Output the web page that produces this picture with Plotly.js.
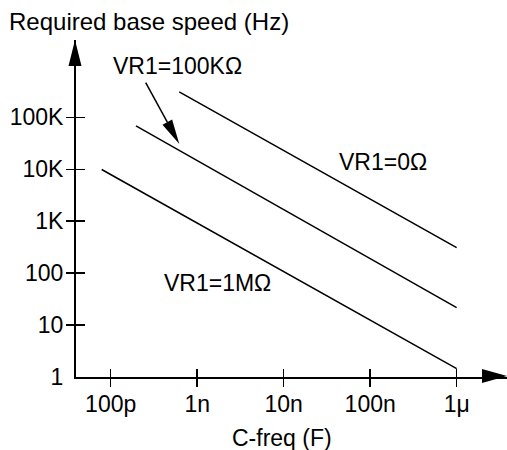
<!DOCTYPE html>
<html>
<head>
<meta charset="utf-8">
<script src="https://cdn.plot.ly/plotly-3.0.1.min.js"></script>
<style>html,body{margin:0;padding:0;background:#fff;}</style>
</head>
<body>
<div id="chart" style="width:507px;height:450px;"></div>
<script>
// ---- data ----
var xTickVals = [1e-10, 1e-9, 1e-8, 1e-7, 1e-6];
var xTickText = ['100p', '1n', '10n', '100n', '1\u03bc'];
var yLabelVals = [1, 10, 100, 1000, 10000, 100000];
var yLabelText = ['1', '10', '100', '1K', '10K', '100K'];
var yMarkVals = [10, 100, 1000, 10000, 100000];

var capVR0 = [6.2e-10, 1.0e-6];
var speedVR0 = [310000, 311];
var capVR100K = [1.96e-10, 1.0e-6];
var speedVR100K = [68600, 21.7];
var capVR1M = [7.87e-11, 1.0e-6];
var speedVR1M = [9900, 1.45];

var labelVR0 = 'VR1=0\u03a9';
var labelVR100K = 'VR1=100K\u03a9';
var labelVR1M = 'VR1=1M\u03a9';

var FONT = 'Liberation Sans, Arial, Helvetica, sans-serif';
var FS = 23;
var lineStyle = {color: '#000', width: 1.5};

var traces = [
  {x: capVR1M, y: speedVR1M, mode: 'lines', line: lineStyle, xaxis: 'x', yaxis: 'y', hoverinfo: 'skip'},
  {x: capVR100K, y: speedVR100K, mode: 'lines', line: lineStyle, xaxis: 'x2', yaxis: 'y2', hoverinfo: 'skip'},
  {x: capVR0, y: speedVR0, mode: 'lines', line: lineStyle, xaxis: 'x', yaxis: 'y3', hoverinfo: 'skip'}
];

var xRange = [-10.401, -5.418];
var yRange = [0, 6.49];

var baseAx = {
  type: 'log', showgrid: false, zeroline: false, fixedrange: true,
  tickfont: {family: FONT, size: FS, color: '#000'}
};
function ax(extra) { return Object.assign({}, baseAx, extra); }

var layout = {
  width: 507, height: 450,
  margin: {l: 76, r: 0, t: 40, b: 73, pad: 0},
  paper_bgcolor: '#fff', plot_bgcolor: '#fff',
  showlegend: false,
  font: {family: FONT, size: FS, color: '#000'},
  title: {
    text: 'Required base speed (Hz)',
    font: {family: FONT, size: 24, color: '#000'},
    xref: 'container', x: 9 / 507, xanchor: 'left',
    yref: 'container', y: 1 - 22 / 450, yanchor: 'middle'
  },
  xaxis: ax({range: xRange, tickmode: 'array', tickvals: xTickVals, ticktext: xTickText,
    ticks: 'outside', ticklen: 8, tickwidth: 1.5, tickcolor: '#000',
    showline: true, linecolor: '#000', linewidth: 2, anchor: 'y', ticklabelstandoff: -3}),
  xaxis2: ax({range: xRange, overlaying: 'x', anchor: 'y2', side: 'bottom', tickmode: 'array', tickvals: xTickVals,
    ticks: 'inside', ticklen: 8, tickwidth: 1.5, tickcolor: '#000', showticklabels: false, showline: false}),
  yaxis: ax({range: yRange, tickmode: 'array', tickvals: yLabelVals, ticktext: yLabelText,
    ticks: 'outside', ticklen: 9, tickwidth: 1.5, tickcolor: 'rgba(0,0,0,0)',
    showline: true, linecolor: '#000', linewidth: 2, anchor: 'x', ticklabelstandoff: -3}),
  yaxis2: ax({range: yRange, overlaying: 'y', anchor: 'x2', side: 'left', tickmode: 'array', tickvals: yMarkVals,
    ticks: 'outside', ticklen: 9, tickwidth: 1.5, tickcolor: '#000', showticklabels: false, showline: false}),
  yaxis3: ax({range: yRange, overlaying: 'y', anchor: 'x', side: 'left', tickmode: 'array', tickvals: yMarkVals,
    ticks: 'inside', ticklen: 9, tickwidth: 1.5, tickcolor: '#000', showticklabels: false, showline: false}),
  annotations: [
    {text: labelVR100K, xref: 'x', yref: 'y', x: -9.222, y: 5.986, showarrow: false,
      xanchor: 'center', yanchor: 'middle', font: {family: FONT, size: FS, color: '#000'}},
    {text: labelVR0, xref: 'x', yref: 'y', x: -6.846, y: 4.137, showarrow: false,
      xanchor: 'center', yanchor: 'middle', font: {family: FONT, size: FS, color: '#000'}},
    {text: labelVR1M, xref: 'x', yref: 'y', x: -8.765, y: 1.805, showarrow: false,
      xanchor: 'center', yanchor: 'middle', font: {family: FONT, size: FS, color: '#000'}},
    {text: 'C-freq (F)', xref: 'paper', yref: 'paper', x: (281.5 - 76) / 431, y: (377 - 438) / 337,
      showarrow: false, xanchor: 'center', yanchor: 'middle', font: {family: FONT, size: FS, color: '#000'}}
  ],
  shapes: [
    // y-axis arrowhead
    {type: 'path', xref: 'paper', yref: 'paper', xsizemode: 'pixel', ysizemode: 'pixel',
      xanchor: 0, yanchor: 1, path: 'M-1,0L-7.5,-26L5.5,-26Z', fillcolor: '#000', line: {width: 0}},
    // x-axis arrowhead
    {type: 'path', xref: 'paper', yref: 'paper', xsizemode: 'pixel', ysizemode: 'pixel',
      xanchor: 1, yanchor: 0, path: 'M0,1L-25,8L-25,-6Z', fillcolor: '#000', line: {width: 0}},
    // pointer line for VR1=100K label
    {type: 'line', xref: 'paper', yref: 'paper', xsizemode: 'pixel', ysizemode: 'pixel',
      xanchor: (179.3 - 76) / 431, yanchor: (377 - 144) / 337, x0: -33.6, y0: 61.3, x1: -12, y1: 21.9,
      line: {color: '#000', width: 1.5}},
    // pointer head
    {type: 'path', xref: 'paper', yref: 'paper', xsizemode: 'pixel', ysizemode: 'pixel',
      xanchor: (179.3 - 76) / 431, yanchor: (377 - 144) / 337, path: 'M0,0L-16.8,19.3L-7.2,24.5Z',
      fillcolor: '#000', line: {width: 0}}
  ]
};

Plotly.newPlot('chart', traces, layout, {staticPlot: true, displayModeBar: false});
</script>
</body>
</html>
